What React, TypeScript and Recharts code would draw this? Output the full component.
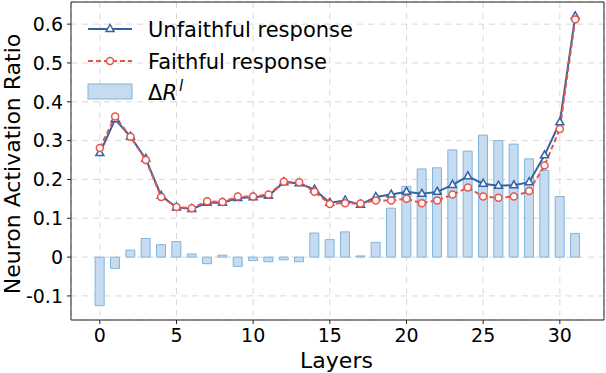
import {
  Bar,
  ComposedChart,
  CartesianGrid,
  Legend,
  Line,
  ReferenceArea,
  XAxis,
  YAxis,
} from "recharts";

const layers = [
  0, 1, 2, 3, 4, 5, 6, 7, 8, 9, 10, 11, 12, 13, 14, 15,
  16, 17, 18, 19, 20, 21, 22, 23, 24, 25, 26, 27, 28, 29, 30, 31,
];

const unfaithful = [
  0.268, 0.355, 0.31, 0.253, 0.158, 0.128, 0.124, 0.14, 0.14, 0.152, 0.154,
  0.158, 0.193, 0.19, 0.174, 0.14, 0.146, 0.135, 0.155, 0.161, 0.168, 0.163,
  0.168, 0.186, 0.208, 0.189, 0.184, 0.185, 0.193, 0.262, 0.347, 0.62,
];

const faithful = [
  0.281, 0.362, 0.31, 0.25, 0.155, 0.129, 0.126, 0.144, 0.142, 0.156, 0.156,
  0.161, 0.194, 0.193, 0.168, 0.137, 0.139, 0.138, 0.146, 0.146, 0.15, 0.139,
  0.146, 0.161, 0.179, 0.156, 0.153, 0.156, 0.17, 0.236, 0.33, 0.612,
];

const deltaR = [
  -0.125, -0.029, 0.018, 0.048, 0.032, 0.04, 0.008, -0.017, 0.005, -0.024,
  -0.009, -0.012, -0.007, -0.012, 0.062, 0.045, 0.065, 0.003, 0.038, 0.126,
  0.182, 0.227, 0.23, 0.276, 0.273, 0.314, 0.3, 0.291, 0.253, 0.223, 0.156,
  0.061,
];

const xTicks = [0, 5, 10, 15, 20, 25, 30];
const yTicks = [-0.1, 0, 0.1, 0.2, 0.3, 0.4, 0.5, 0.6];

const X_DOMAIN: [number, number] = [-1.88, 32.88];
const Y_DOMAIN: [number, number] = [-0.162, 0.657];

const BLUE = "#3463a1";
const RED = "#e9544b";
const BAR_FILL = "#c6dbef";
const BAR_EDGE = "#80b4dc";
const FONT = "DejaVu Sans";

const data = layers.map((layer, i) => ({
  layer,
  unfaithful: unfaithful[i],
  faithful: faithful[i],
  delta: deltaR[i],
}));

function Triangle({ cx, cy }: { cx: number; cy: number }) {
  return (
    <polygon
      points={`${cx},${cy - 4.5} ${cx - 4},${cy + 2.5} ${cx + 4},${cy + 2.5}`}
      fill="#fff"
      stroke={BLUE}
      strokeWidth={1.5}
    />
  );
}

const triangleDot = (props: any) => {
  const { cx, cy, index } = props;
  if (cx == null || cy == null) return <g key={`t-${index}`} />;
  return <Triangle key={`t-${index}`} cx={cx} cy={cy} />;
};

const circleDot = (props: any) => {
  const { cx, cy, index } = props;
  if (cx == null || cy == null) return <g key={`c-${index}`} />;
  return (
    <circle
      key={`c-${index}`}
      cx={cx}
      cy={cy}
      r={3.5}
      fill="#fff"
      stroke={RED}
      strokeWidth={1.5}
    />
  );
};

function LegendBox() {
  return (
    <svg width={360} height={110} style={{ display: "block" }}>
      <g fontFamily={FONT} fontSize={21} fill="#000">
        <line x1={88} x2={132} y1={29} y2={29} stroke={BLUE} strokeWidth={2} />
        <Triangle cx={110} cy={29} />
        <text x={148} y={36.5}>Unfaithful response</text>

        <line
          x1={88}
          x2={132}
          y1={61}
          y2={61}
          stroke={RED}
          strokeWidth={2}
          strokeDasharray="5 3"
        />
        <circle cx={110} cy={61} r={3.5} fill="#fff" stroke={RED} strokeWidth={1.5} />
        <text x={148} y={68.5}>Faithful response</text>

        <rect x={88} y={84} width={44} height={15} fill={BAR_FILL} stroke={BAR_EDGE} />
        <text x={148} y={100}>
          Δ<tspan fontStyle="italic">R</tspan>
          <tspan fontStyle="italic" fontSize={15} dx={2} dy={-9}>
            l
          </tspan>
        </text>
      </g>
    </svg>
  );
}

// rotated y label, placed by hand so it sits where the reference has it
const YLabel = (props: any) => {
  const vb = props.viewBox || { y: 2, height: 318 };
  const cy = vb.y + vb.height / 2 + 3;
  return (
    <text
      transform={`translate(12, ${cy}) rotate(-90)`}
      textAnchor="middle"
      dominantBaseline="central"
      fontFamily={FONT}
      fontSize={22}
      fill="#000"
    >
      Neuron Activation Ratio
    </text>
  );
};

const XLabel = (props: any) => {
  const vb = props.viewBox || { x: 71, width: 533 };
  return (
    <text
      x={vb.x + vb.width / 2 - 1}
      y={368}
      textAnchor="middle"
      fontFamily={FONT}
      fontSize={22}
      fill="#000"
    >
      Layers
    </text>
  );
};

const tickStyle = { fontFamily: FONT, fontSize: 19, fill: "#000" };

export default function App() {
  return (
    <div
      style={{
        position: "absolute",
        left: 0,
        top: 0,
        width: 606,
        height: 373,
        background: "#fff",
      }}
    >
      <ComposedChart
        width={606}
        height={373}
        data={data}
        margin={{ top: 2, right: 2, left: 0, bottom: 0 }}
      >
        <CartesianGrid stroke="#d9d9d9" strokeDasharray="6 5" strokeWidth={1} />
        <XAxis
          dataKey="layer"
          type="number"
          domain={X_DOMAIN}
          allowDataOverflow
          ticks={xTicks}
          height={53}
          axisLine={false}
          tickLine={{ stroke: "#222" }}
          tickSize={4}
          tickMargin={5}
          tick={tickStyle}
          label={<XLabel />}
        />
        <YAxis
          type="number"
          domain={Y_DOMAIN}
          allowDataOverflow
          ticks={yTicks}
          width={71}
          axisLine={false}
          tickLine={{ stroke: "#222" }}
          tickSize={4}
          tickMargin={4}
          tick={tickStyle}
          tickFormatter={(v: number) => (v === 0 ? "0" : v.toFixed(1))}
          label={<YLabel />}
        />
        <Bar
          dataKey="delta"
          barSize={9}
          fill={BAR_FILL}
          stroke={BAR_EDGE}
          strokeWidth={1}
          isAnimationActive={false}
        />
        <Line
          dataKey="unfaithful"
          stroke={BLUE}
          strokeWidth={2}
          dot={triangleDot}
          activeDot={false}
          isAnimationActive={false}
        />
        <Line
          dataKey="faithful"
          stroke={RED}
          strokeWidth={2}
          strokeDasharray="5 3"
          dot={circleDot}
          activeDot={false}
          isAnimationActive={false}
        />
        <ReferenceArea
          x1={X_DOMAIN[0]}
          x2={X_DOMAIN[1]}
          y1={Y_DOMAIN[0]}
          y2={Y_DOMAIN[1]}
          fill="none"
          stroke="#222"
          strokeWidth={1}
          ifOverflow="visible"
        />
        <Legend
          layout="vertical"
          align="center"
          verticalAlign="middle"
          content={() => <LegendBox />}
          wrapperStyle={{ position: "absolute", left: 0, top: 0, width: 360, height: 110 }}
        />
      </ComposedChart>
    </div>
  );
}
